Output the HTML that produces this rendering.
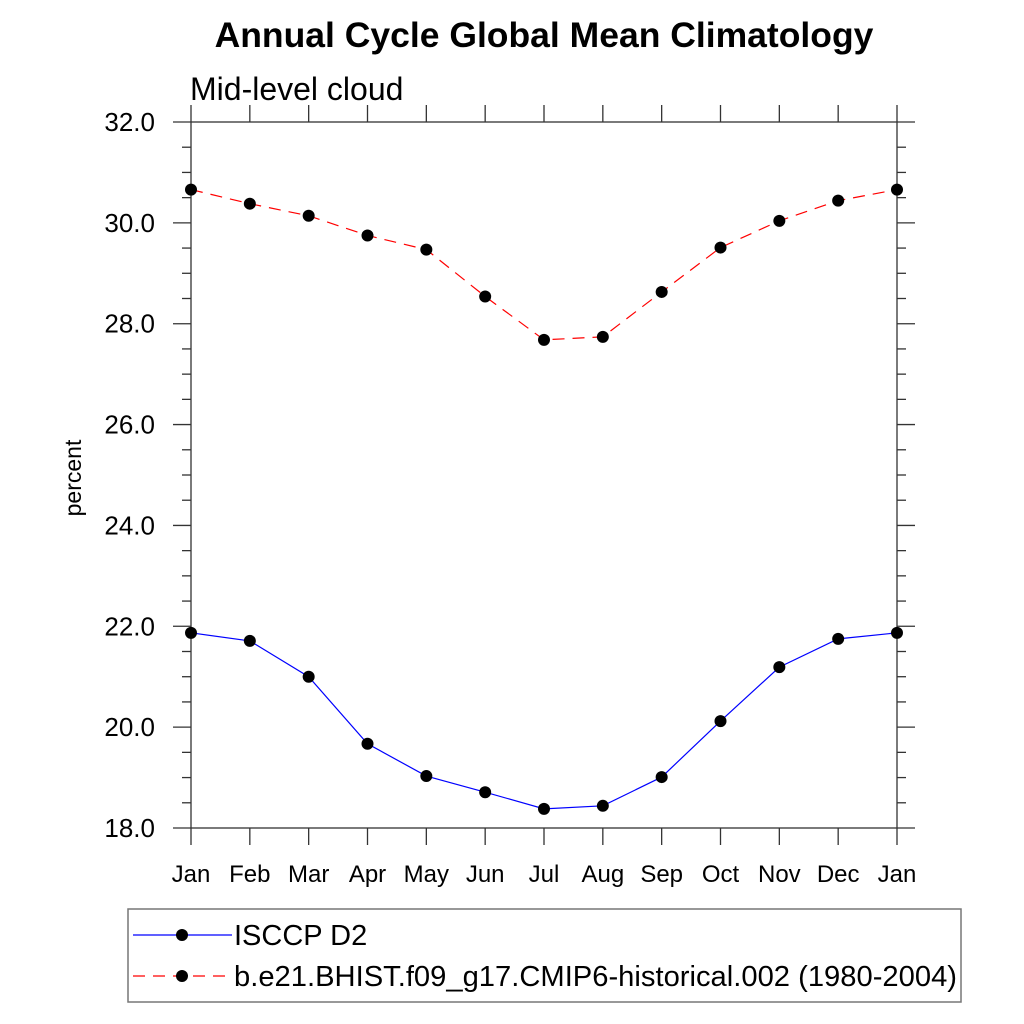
<!DOCTYPE html>
<html><head><meta charset="utf-8"><style>
body{margin:0;background:#fff;}
svg{display:block;font-family:"Liberation Sans",sans-serif;}
</style></head><body>
<svg id="chart" width="1024" height="1024" viewBox="0 0 1024 1024">
<text x="544" y="47" text-anchor="middle" font-size="35.5" font-weight="bold">Annual Cycle Global Mean Climatology</text>
<text x="190" y="100" font-size="32">Mid-level cloud</text>
<text transform="translate(81,478) rotate(-90)" text-anchor="middle" font-size="23">percent</text>
<g id="axes"></g>
<g id="series"></g>
<rect x="128" y="909" width="833" height="93" fill="none" stroke="#777" stroke-width="1.5"/>
<g>
<line x1="133" y1="935" x2="232" y2="935" stroke="blue" stroke-width="1.2"/>
<circle cx="182" cy="935" r="6" fill="#000"/>
<text x="234" y="945" font-size="29">ISCCP D2</text>
</g>
<g>
<line x1="133" y1="976" x2="232" y2="976" stroke="red" stroke-width="1.2" stroke-dasharray="12,8"/>
<circle cx="182" cy="976" r="6" fill="#000"/>
<text x="234" y="986" font-size="29" textLength="723" lengthAdjust="spacingAndGlyphs">b.e21.BHIST.f09_g17.CMIP6-historical.002 (1980-2004)</text>
</g>
</svg>
<script>
const months = ["Jan","Feb","Mar","Apr","May","Jun","Jul","Aug","Sep","Oct","Nov","Dec","Jan"];
const isccp = [21.87,21.71,21.0,19.67,19.03,18.71,18.38,18.44,19.01,20.12,21.19,21.75,21.87];
const model = [30.66,30.38,30.14,29.75,29.47,28.54,27.68,27.74,28.63,29.51,30.04,30.44,30.66];
const yTicks = [18,20,22,24,26,28,30,32];
const yTickLabels = ["18.0","20.0","22.0","24.0","26.0","28.0","30.0","32.0"];
const NS="http://www.w3.org/2000/svg";
const X0=191,X1=897,Y0=828,Y1=122,YMIN=18,YMAX=32;
const xs=i=>X0+(X1-X0)*i/(months.length-1);
const ys=v=>Y0-(v-YMIN)/(YMAX-YMIN)*(Y0-Y1);
function mk(tag,attrs,parent){const e=document.createElementNS(NS,tag);for(const k in attrs)e.setAttribute(k,attrs[k]);parent.appendChild(e);return e;}
const ax=document.getElementById('axes');
const st={stroke:"#333","stroke-width":1.3};
let l;
l=mk('rect',{x:X0,y:Y1,width:X1-X0,height:Y0-Y1,fill:"none",stroke:"#333","stroke-width":1.3},ax);


for(let v=YMIN;v<=YMAX+0.001;v+=0.5){
  const y=ys(v);const major=Math.abs(v-Math.round(v/2)*2)<0.01;
  const len=major?18:9;
  l=mk('line',Object.assign({x1:X0-len,y1:y,x2:X0,y2:y},st),ax);
  
  
  l=mk('line',Object.assign({x1:X1,y1:y,x2:X1+len,y2:y},st),ax);
  
  
}
yTicks.forEach((v,i)=>{
  const t=mk('text',{x:155,y:ys(v)+9,"text-anchor":"end","font-size":26},ax);
  t.textContent=yTickLabels[i];
  
  
});
months.forEach((m,i)=>{
  const x=xs(i);
  l=mk('line',Object.assign({x1:x,y1:Y0,x2:x,y2:Y0+17},st),ax);
  
  
  l=mk('line',Object.assign({x1:x,y1:Y1-17,x2:x,y2:Y1},st),ax);
  
  
  const t=mk('text',{x:x,y:882,"text-anchor":"middle","font-size":24},ax);
  t.textContent=m;
  
  
});
const se=document.getElementById('series');
function draw(vals,color,dash,name){
  const p=mk('polyline',{points:vals.map((v,i)=>xs(i)+','+ys(v)).join(' '),fill:"none",stroke:color,"stroke-width":1.2,"stroke-dasharray":dash},se);
  
  
  vals.forEach((v,i)=>{
    const c=mk('circle',{cx:xs(i),cy:ys(v),r:6,fill:"#000"},se);
    
    
  });
}
draw(isccp,"blue","none","isccp");
draw(model,"red","12,8","model");
</script>
</body></html>
